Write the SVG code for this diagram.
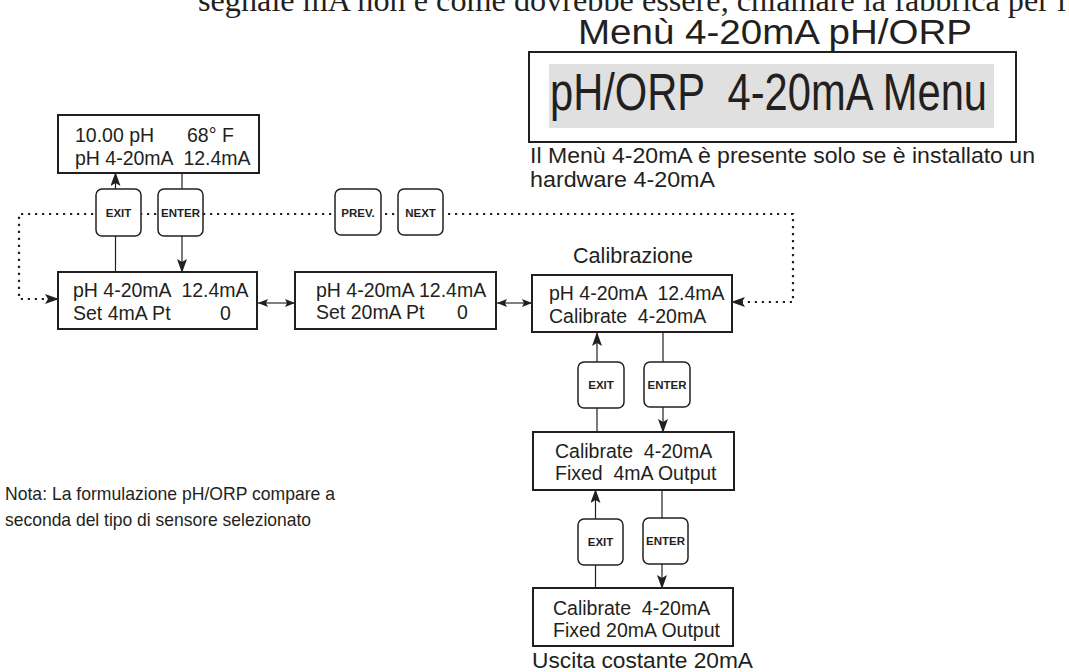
<svg xmlns="http://www.w3.org/2000/svg" width="1069" height="672" viewBox="0 0 1069 672">
<style>
.box{fill:#fff;stroke:#231f20;stroke-width:2}
.btn{fill:#fff;stroke:#231f20;stroke-width:1.5}
.t{font-family:"Liberation Sans",Arial,sans-serif;font-size:19.5px;fill:#231f20;white-space:pre}
.lbl{font-family:"Liberation Sans",Arial,sans-serif;font-size:22px;fill:#231f20;white-space:pre}
.bt{font-family:"Liberation Sans",Arial,sans-serif;font-size:11.5px;font-weight:bold;fill:#231f20;text-anchor:middle}
.ln{fill:none;stroke:#231f20;stroke-width:1.2}
.dbl{fill:none;stroke:#555;stroke-width:1.5}
.dot{fill:none;stroke:#231f20;stroke-width:2.2;stroke-dasharray:2.2 4.8}
</style>
<defs>
<marker id="ah" viewBox="0 0 14 10" refX="13" refY="5" markerWidth="14" markerHeight="10" markerUnits="userSpaceOnUse" orient="auto-start-reverse">
<path d="M0,0 L14,5 L0,10 L3,5 z" fill="#231f20"/>
</marker>
<marker id="as" viewBox="0 0 10 8" refX="10" refY="4" markerWidth="10" markerHeight="8" markerUnits="userSpaceOnUse" orient="auto-start-reverse">
<path d="M0,0 L10,4 L0,8 L2,4 z" fill="#231f20"/>
</marker>
</defs>

<text x="198" y="11" textLength="868" lengthAdjust="spacingAndGlyphs" style="font-family:'Liberation Serif','Times New Roman',serif;font-size:32px;fill:#231f20">segnale mA non è come dovrebbe essere, chiamare la fabbrica per i</text>

<g id="title">
<text x="578" y="44" class="lbl" style="font-size:35px" textLength="394" lengthAdjust="spacingAndGlyphs">Menù 4-20mA pH/ORP</text>
</g>

<g id="menu-box">
<rect x="529" y="52" width="487" height="90" fill="#fff" stroke="#231f20" stroke-width="2"/>
<rect x="549" y="64" width="445" height="64" fill="#e0e0e0"/>
<text x="550" y="110" class="lbl" style="font-size:51px" textLength="437" lengthAdjust="spacingAndGlyphs">pH/ORP  4-20mA Menu</text>
</g>

<g id="note-hw">
<text x="530" y="163" class="lbl" textLength="505" lengthAdjust="spacingAndGlyphs">Il Menù 4-20mA è presente solo se è installato un</text>
<text x="530" y="187" class="lbl" textLength="185" lengthAdjust="spacingAndGlyphs">hardware 4-20mA</text>
</g>

<g id="connectors">
<path class="dot" d="M58,299 L19,299 L19,214 L793,214 L793,302 L732,302" marker-start="url(#ah)" marker-end="url(#ah)"/>
<line class="ln" x1="115.5" y1="272" x2="115.5" y2="173" marker-end="url(#ah)"/>
<line class="ln" x1="182" y1="173" x2="182" y2="272" marker-end="url(#ah)"/>
<line class="dbl" x1="258" y1="303" x2="295" y2="303" marker-start="url(#as)" marker-end="url(#as)"/>
<line class="dbl" x1="497" y1="303" x2="532" y2="303" marker-start="url(#as)" marker-end="url(#as)"/>
<line class="ln" x1="597" y1="432" x2="597" y2="333" marker-end="url(#ah)"/>
<line class="ln" x1="663" y1="333" x2="663" y2="432" marker-end="url(#ah)"/>
<line class="ln" x1="595.5" y1="588" x2="595.5" y2="490" marker-end="url(#ah)"/>
<line class="ln" x1="662" y1="490" x2="662" y2="588" marker-end="url(#ah)"/>
</g>

<g id="btn-exit-1"><rect class="btn" x="96" y="189" width="45" height="47" rx="6"/><text class="bt" x="118.5" y="217">EXIT</text></g>
<g id="btn-enter-1"><rect class="btn" x="158" y="189" width="45" height="47" rx="6"/><text class="bt" x="180.5" y="217">ENTER</text></g>
<g id="btn-prev"><rect class="btn" x="335" y="189" width="46" height="46" rx="6"/><text class="bt" x="358" y="217">PREV.</text></g>
<g id="btn-next"><rect class="btn" x="398" y="189" width="45" height="46" rx="6"/><text class="bt" x="420.5" y="217">NEXT</text></g>
<g id="btn-exit-2"><rect class="btn" x="578" y="362" width="46" height="46" rx="6"/><text class="bt" x="601" y="389">EXIT</text></g>
<g id="btn-enter-2"><rect class="btn" x="644" y="362" width="46" height="45" rx="6"/><text class="bt" x="667" y="389">ENTER</text></g>
<g id="btn-exit-3"><rect class="btn" x="578" y="519" width="45" height="46" rx="6"/><text class="bt" x="600.5" y="546">EXIT</text></g>
<g id="btn-enter-3"><rect class="btn" x="643" y="518" width="45" height="46" rx="6"/><text class="bt" x="665.5" y="545">ENTER</text></g>

<g id="box-main">
<rect class="box" x="58" y="115" width="201" height="58"/>
<text class="t" x="75" y="142">10.00 pH</text><text class="t" x="187" y="142">68° F</text>
<text class="t" x="75" y="165">pH 4-20mA  12.4mA</text>
</g>

<g id="box-set4">
<rect class="box" x="58" y="272" width="199" height="57"/>
<text class="t" x="73" y="297">pH 4-20mA  12.4mA</text>
<text class="t" x="73" y="320">Set 4mA Pt</text><text class="t" x="220" y="320">0</text>
</g>

<g id="box-set20">
<rect class="box" x="295" y="272" width="201" height="57"/>
<text class="t" x="316" y="297">pH 4-20mA 12.4mA</text>
<text class="t" x="316" y="319">Set 20mA Pt</text><text class="t" x="457" y="319">0</text>
</g>

<g id="box-cal">
<text class="lbl" x="573" y="263" textLength="120" lengthAdjust="spacingAndGlyphs">Calibrazione</text>
<rect class="box" x="532" y="275" width="200" height="57"/>
<text class="t" x="549" y="300">pH 4-20mA  12.4mA</text>
<text class="t" x="549" y="323">Calibrate  4-20mA</text>
</g>

<g id="box-fixed4">
<rect class="box" x="533" y="432" width="201" height="58"/>
<text class="t" x="555" y="458">Calibrate  4-20mA</text>
<text class="t" x="555" y="480">Fixed  4mA Output</text>
</g>

<g id="box-fixed20">
<rect class="box" x="533" y="588" width="200" height="58"/>
<text class="t" x="553" y="615">Calibrate  4-20mA</text>
<text class="t" x="553" y="637">Fixed 20mA Output</text>
<text class="lbl" x="532" y="668" textLength="221" lengthAdjust="spacingAndGlyphs">Uscita costante 20mA</text>
</g>

<g id="note-sensor">
<text class="lbl" x="5" y="500" style="font-size:18.5px" textLength="330" lengthAdjust="spacingAndGlyphs">Nota: La formulazione pH/ORP compare a</text>
<text class="lbl" x="5" y="526" style="font-size:18.5px" textLength="306" lengthAdjust="spacingAndGlyphs">seconda del tipo di sensore selezionato</text>
</g>
</svg>
